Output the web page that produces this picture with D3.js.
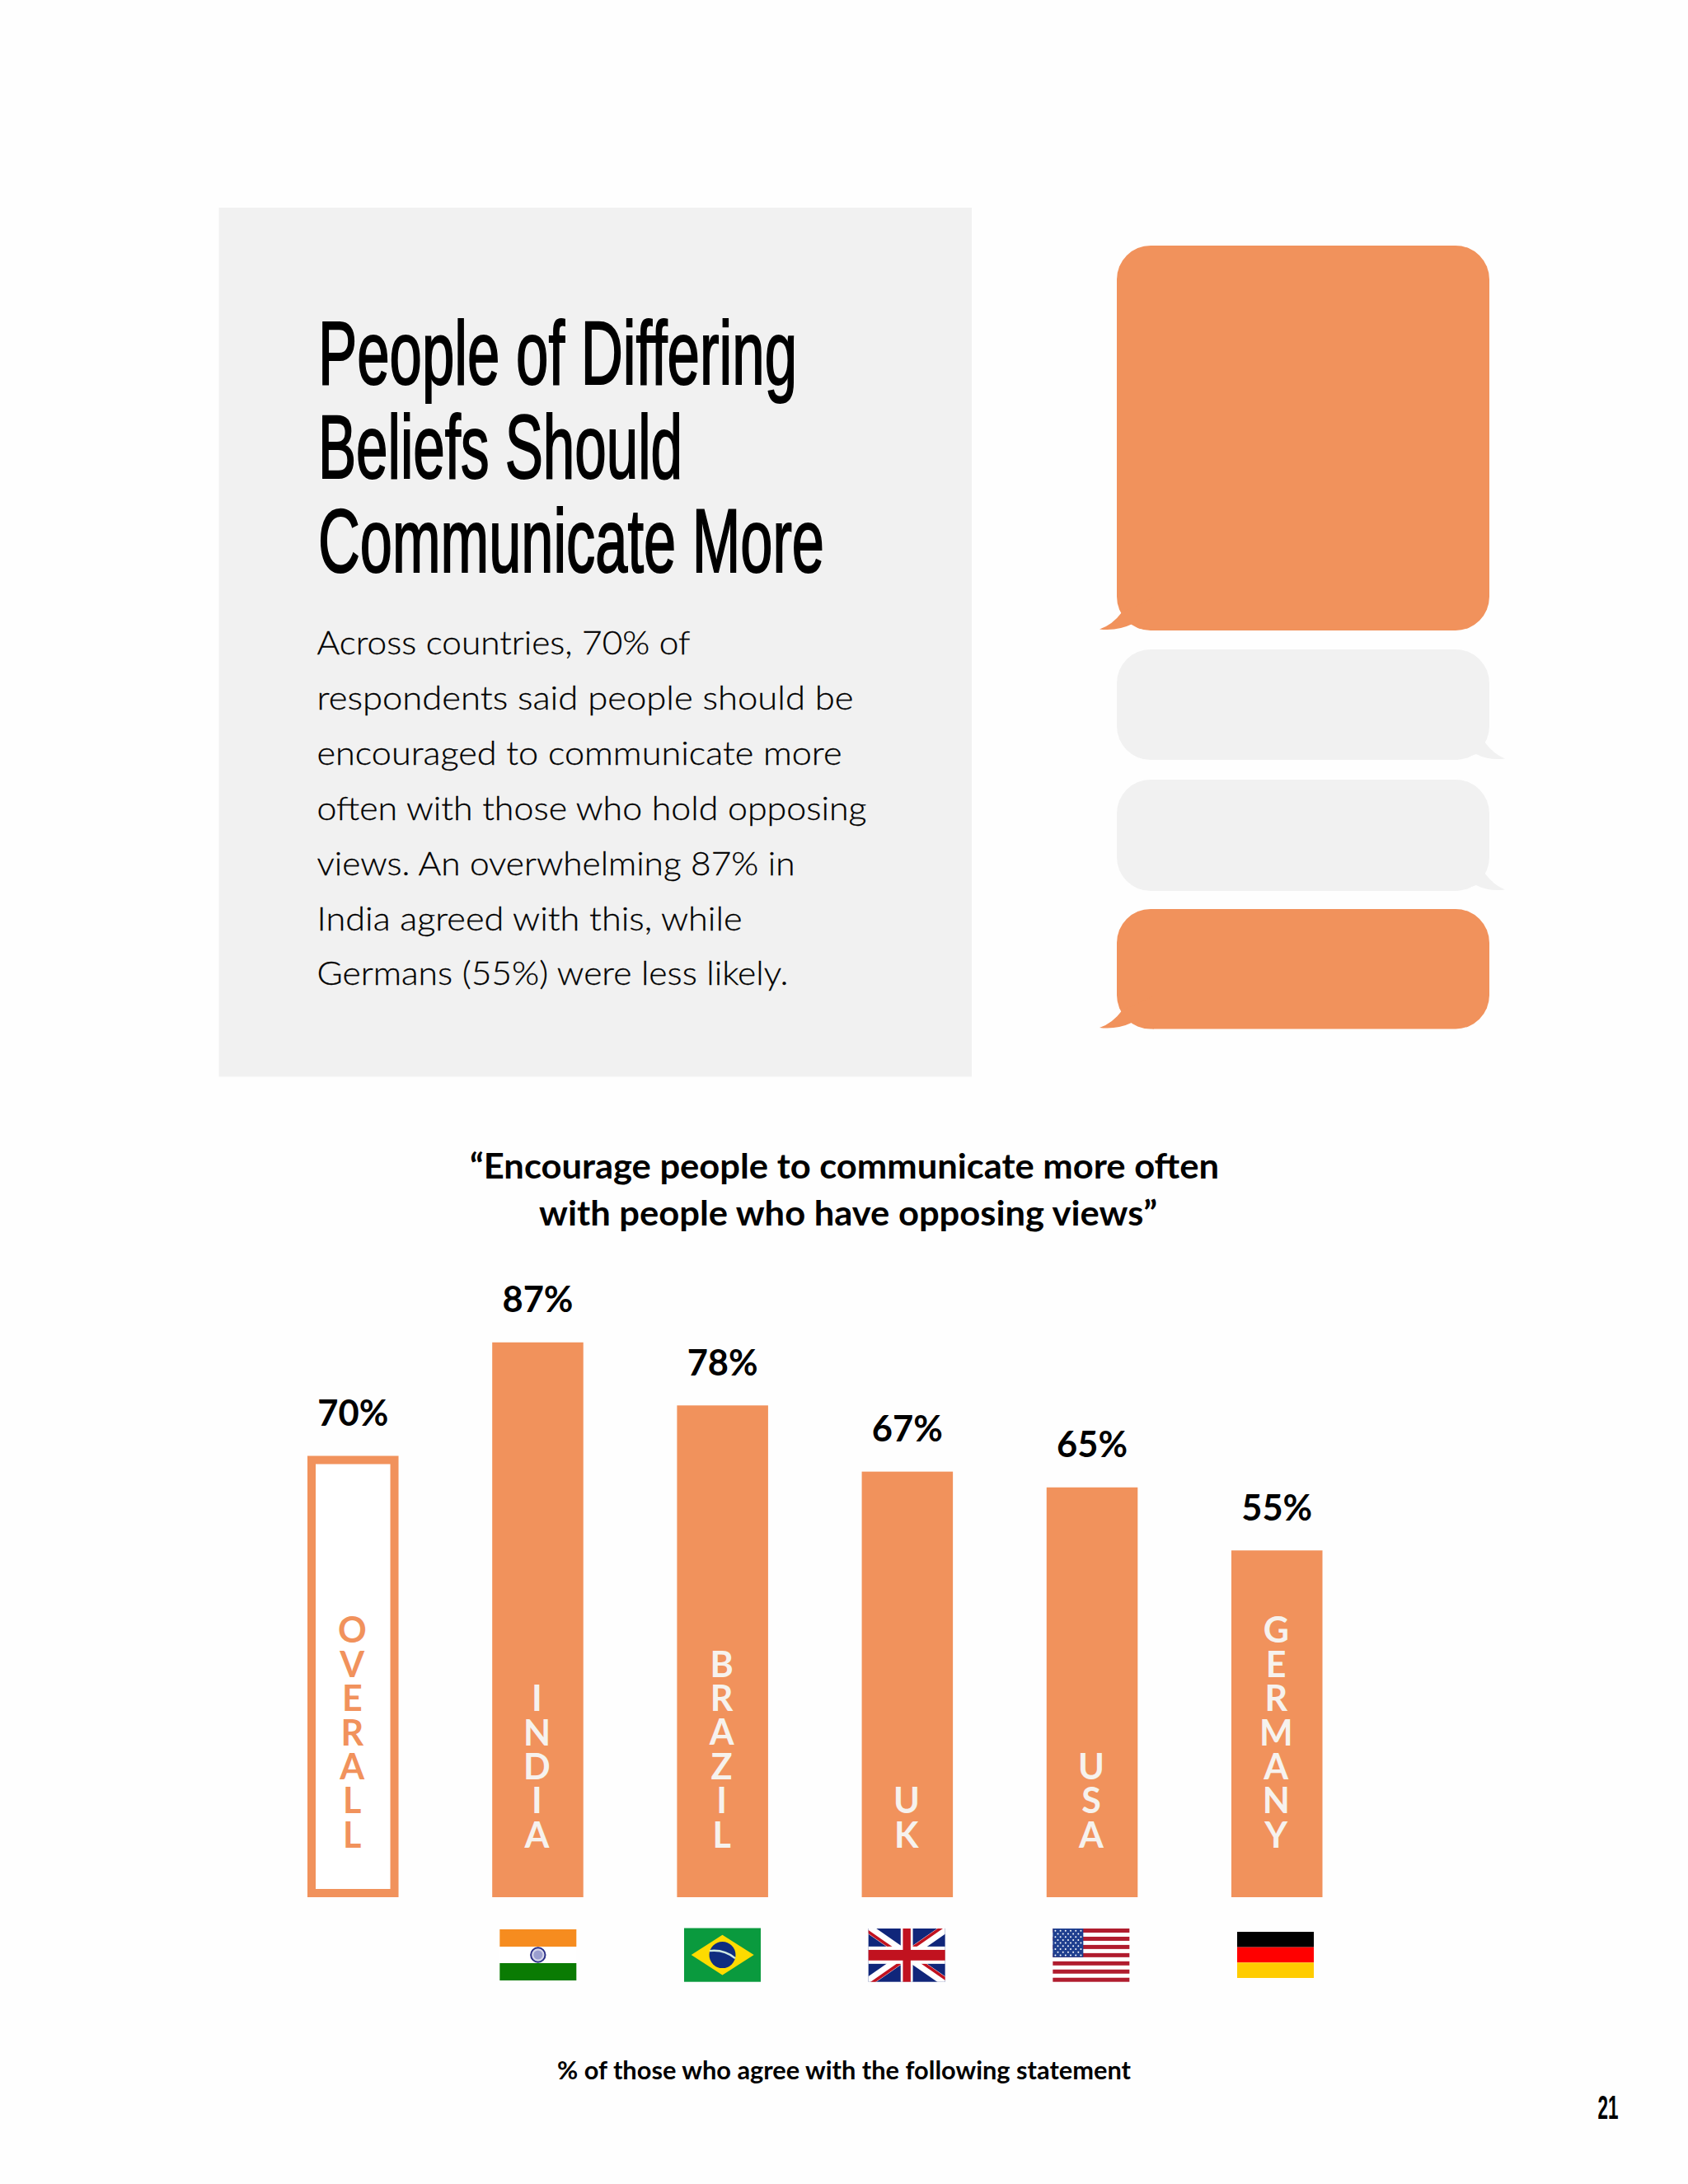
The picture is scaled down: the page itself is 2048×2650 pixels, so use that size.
<!DOCTYPE html>
<html><head><meta charset="utf-8">
<script src="https://cdn.jsdelivr.net/npm/d3@7"></script>
<style>html,body{margin:0;padding:0;background:#fff}svg{display:block}</style>
</head><body><div id="c"></div>
<script>
// ---- data ----
const categories = ["OVERALL","INDIA","BRAZIL","UK","USA","GERMANY"];
const labelValues = [70,87,78,67,65,55];            // printed percentages
const drawnValues = [70,88,78,67.5,65,55];          // lengths of the bars as drawn in the source
const titleLines = ["People of Differing","Beliefs Should","Communicate More"];
const bodyLines = ["Across countries, 70% of","respondents said people should be","encouraged to communicate more","often with those who hold opposing","views. An overwhelming 87% in","India agreed with this, while","Germans (55%) were less likely."];
const quoteLines = ["“Encourage people to communicate more often","with people who have opposing views”"];
const footnote = "% of those who agree with the following statement";
const pageNumber = "21";

// ---- layout / style ----
const ORANGE="#f1925c", GREY="#f1f1f1", W=2048, H=2650;
const svg=d3.select("#c").append("svg").attr("width",W).attr("height",H).attr("viewBox",[0,0,W,H]);
svg.append("rect").attr("width",W).attr("height",H).attr("fill","#fefefe");

function txt(s,x,y,o){
  const t=svg.append("text").attr("x",x).attr("y",y).text(s)
    .attr("font-family",o.font).attr("font-size",o.size).attr("font-weight",o.weight||400)
    .attr("fill",o.fill||"#000").attr("text-anchor",o.anchor||"start");
  if(o.len) t.attr("textLength",o.len).attr("lengthAdjust","spacingAndGlyphs");
  if(o.stroke) t.attr("stroke",o.fill||"#000").attr("stroke-width",o.stroke);
  return t;
}

// panel
svg.append("rect").attr("x",265.5).attr("y",252).attr("width",913.5).attr("height",1054.5).attr("fill",GREY);

// headline
const titleW=[581,442,614];
titleLines.forEach((s,i)=>txt(s,386,466+114*i,{font:"'Liberation Sans Narrow','Liberation Sans'",size:110,weight:400,len:titleW[i],stroke:2}));

// body
const bodyW=[453,651,637,667,580,516,572];
bodyLines.forEach((s,i)=>txt(s,384.5,794+66.9*i,{font:"Lato",size:40,weight:300,len:bodyW[i],fill:"#000",stroke:0.3}));

// speech bubbles
const bubbleSpec=[
 {y0:298,y1:765,fill:ORANGE,side:"l"},
 {y0:788,y1:922,fill:GREY,side:"r"},
 {y0:946,y1:1081,fill:GREY,side:"r"},
 {y0:1103,y1:1248.5,fill:ORANGE,side:"l"}];
const bx0=1355,bx1=1807,br=41;
bubbleSpec.forEach(b=>{
  svg.append("rect").attr("x",bx0).attr("y",b.y0).attr("width",bx1-bx0).attr("height",b.y1-b.y0).attr("rx",br).attr("ry",br).attr("fill",b.fill);
  const path=d3.path(), e=b.y1;
  if(b.side==="l"){
    path.moveTo(1361,e-22); path.quadraticCurveTo(1350,e-7,1334,e-1.5);
    path.quadraticCurveTo(1355,e+1,1374,e-8); path.quadraticCurveTo(1385,e-2,1400,e); path.lineTo(1400,e-40); path.closePath();
  } else {
    path.moveTo(1801,e-22); path.quadraticCurveTo(1812,e-7,1826,e-1.5);
    path.quadraticCurveTo(1806,e+1,1791,e-7); path.quadraticCurveTo(1778,e-2,1765,e); path.lineTo(1765,e-40); path.closePath();
  }
  svg.append("path").attr("d",path.toString()).attr("fill",b.fill);
});

// quote
txt(quoteLines[0],1024.5,1429.5,{font:"Lato",size:42,weight:700,anchor:"middle",len:909});
txt(quoteLines[1],1029,1486.5,{font:"Lato",size:42,weight:700,anchor:"middle",len:750});

// scales
const x=d3.scaleBand().domain(categories).range([373,1604.5]).paddingInner(0.507).paddingOuter(0);
const y=d3.scaleLinear().domain([0,100]).range([2302,1537]);
const rows=categories.map((c,i)=>({c,label:labelValues[i],v:drawnValues[i]}));

// bars
const SW=10;
svg.selectAll("rect.bar").data(rows).join("rect").attr("class","bar")
  .attr("x",d=>x(d.c)+(d.c==="OVERALL"?SW/2:0))
  .attr("y",d=>y(d.v)+(d.c==="OVERALL"?SW/2:0))
  .attr("width",d=>x.bandwidth()-(d.c==="OVERALL"?SW:0))
  .attr("height",d=>y(0)-y(d.v)-(d.c==="OVERALL"?SW:0))
  .attr("fill",d=>d.c==="OVERALL"?"#fff":ORANGE)
  .attr("stroke",d=>d.c==="OVERALL"?ORANGE:"none")
  .attr("stroke-width",d=>d.c==="OVERALL"?SW:0);

// value labels
svg.selectAll("text.val").data(rows).join("text").attr("class","val")
  .attr("x",d=>x(d.c)+x.bandwidth()/2).attr("y",d=>y(d.v)-36.5)
  .attr("text-anchor","middle").attr("font-family","Lato").attr("font-size",44).attr("font-weight",700)
  .attr("textLength",86).attr("lengthAdjust","spacingAndGlyphs")
  .text(d=>d.label+"%");

// category names set upright in a vertical run, one text per bar
const PITCH=41.35, STACK_SIZE=43, ASCENT=0.987*STACK_SIZE;
svg.selectAll("text.stack").data(rows).join("text").attr("class","stack")
  .attr("font-family","Lato").attr("font-size",STACK_SIZE).attr("font-weight",700)
  .attr("fill",d=>d.c==="OVERALL"?ORANGE:"#f6f2ee")
  .style("writing-mode","vertical-rl").style("text-orientation","upright")
  .attr("text-anchor","start")
  .attr("x",d=>x(d.c)+x.bandwidth()/2-1)
  .text(d=>d.c)
  .each(function(d){
    const t=d3.select(this), n=d.c.length;
    const adv=this.getComputedTextLength()/n;
    t.style("letter-spacing",(PITCH-adv)+"px");
    t.attr("y",2242-(n-1)*PITCH-ASCENT);
  });

// flags
const fw=93;
const flagX=d3.scalePoint().domain(categories.slice(1)).range([652.8,1547.5]);
const flagBox={INDIA:[2341,2403],BRAZIL:[2339.5,2404.7],UK:[2340,2404.7],USA:[2340,2404.7],GERMANY:[2344,2400]};
function flag(c){
  const [y0,y1]=flagBox[c], h=y1-y0, x0=flagX(c)-fw/2;
  const g=svg.append("g").attr("transform",`translate(${x0},${y0})`);
  const r=(a,b,w,hh,f)=>g.append("rect").attr("x",a).attr("y",b).attr("width",w).attr("height",hh).attr("fill",f);
  if(c==="INDIA"){
    r(0,0,fw,21,"#f68c1f"); r(0,21,fw,20,"#fff"); r(0,41,fw,21,"#0a7b03");
    g.append("circle").attr("cx",fw/2).attr("cy",31).attr("r",8.7).attr("fill","#d4d5ea").attr("stroke","#2a2f86").attr("stroke-width",2);
    g.append("circle").attr("cx",fw/2).attr("cy",31).attr("r",5.5).attr("fill","#9a9ecf");
  } else if(c==="BRAZIL"){
    r(0,0,fw,h,"#0a9a3e");
    g.append("path").attr("d",`M${fw/2},8.3 L${fw-8.3},${h/2} L${fw/2},${h-8.3} L8.7,${h/2}Z`).attr("fill","#fedb00");
    g.append("circle").attr("cx",fw/2).attr("cy",h/2).attr("r",16).attr("fill","#0f2c80");
    g.append("path").attr("d",`M${fw/2-15.5},${h/2-5} Q${fw/2+2},${h/2-7} ${fw/2+15.5},${h/2+4}`).attr("fill","none").attr("stroke","#cfe9e2").attr("stroke-width",2.4);
  } else if(c==="UK"){
    r(0,0,fw,h,"#10267a");
    const cid="ukclip"; g.append("clipPath").attr("id",cid).append("rect").attr("width",fw).attr("height",h);
    const u=g.append("g").attr("clip-path",`url(#${cid})`);
    const seg=(x1,y1,x2,y2,col,sw)=>u.append("line").attr("x1",x1).attr("y1",y1).attr("x2",x2).attr("y2",y2).attr("stroke",col).attr("stroke-width",sw);
    seg(0,0,fw,h,"#fff",11); seg(fw,0,0,h,"#fff",11);
    const cx=fw/2, cy=h/2, o=2.4;
    seg(-o,o,cx-o,cy+o,"#c1121f",3.6);
    seg(fw-o,-o,cx-o,cy-o,"#c1121f",3.6);
    seg(fw+o,h-o,cx+o,cy-o,"#c1121f",3.6);
    seg(o,h+o,cx+o,cy+o,"#c1121f",3.6);
    r(fw/2-7.4,0,14.8,h,"#fff"); r(0,h/2-10.5,fw,21,"#fff");
    r(fw/2-4.7,0,9.4,h,"#c1121f"); r(0,h/2-6.4,fw,12.8,"#c1121f");
  } else if(c==="USA"){
    r(0,0,fw,h,"#fff");
    d3.range(7).forEach(i=>r(0,i*h/13*2,fw,h/13,"#b01c2e"));
    r(0,0,37,h*7/13,"#1f3f8f");
    d3.range(9).forEach(i=>{
      const odd=i%2, n=odd?5:6;
      d3.range(n).forEach(j=>g.append("circle").attr("cx",3.1+(odd?3.1:0)+j*6.2).attr("cy",2.8+i*3.7).attr("r",1).attr("fill","#fff"));
    });
  } else {
    r(0,0,fw,h/3,"#000"); r(0,h/3,fw,h/3,"#f00"); r(0,2*h/3,fw,h/3,"#ffcc00");
  }
}
categories.slice(1).forEach(flag);

// footnote + page number
txt(footnote,1024,2523,{font:"Lato",size:31,weight:700,anchor:"middle",len:696});
txt(pageNumber,1951,2570.5,{font:"'Liberation Sans Narrow','Liberation Sans'",size:40,weight:700,anchor:"middle",len:25});
</script></body></html>
